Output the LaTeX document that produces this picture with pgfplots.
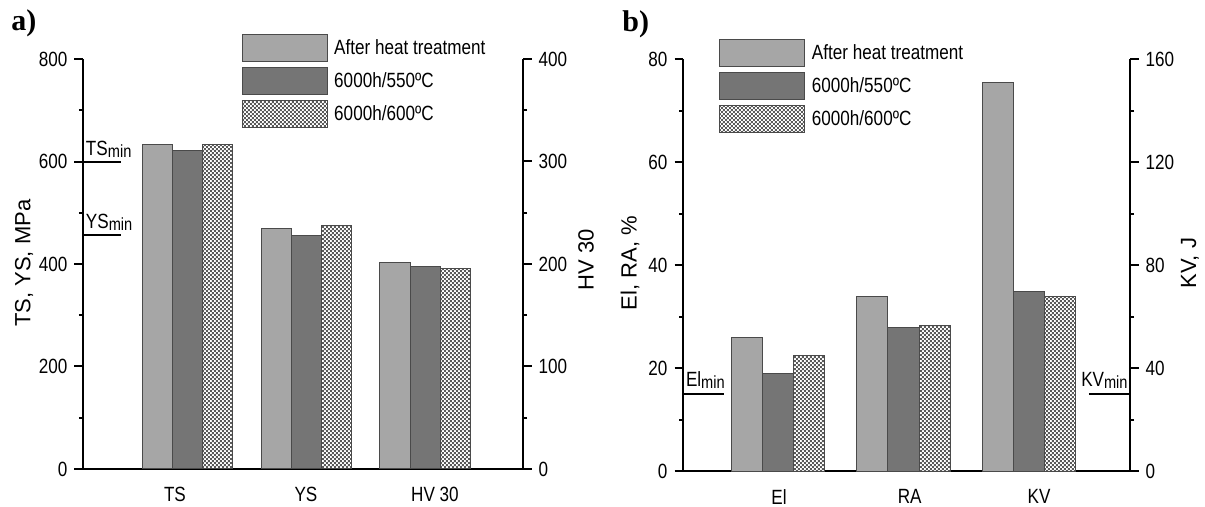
\documentclass[border=0pt]{standalone}
\usepackage{fontspec}
\setmainfont{Liberation Sans}
\newfontfamily\condfont[FakeStretch=0.83]{Liberation Sans}
\newfontfamily\panelfont{Liberation Serif}
\usepackage{pgfplots}
\pgfplotsset{compat=1.18}
\usetikzlibrary{patterns}

% fine checker used for the 600 C series
\pgfdeclarepatternformonly{finecheck}{\pgfqpoint{0pt}{0pt}}{\pgfqpoint{2.2pt}{2.2pt}}{\pgfqpoint{2.2pt}{2.2pt}}{%
  \pgfpathrectangle{\pgfqpoint{0pt}{0pt}}{\pgfqpoint{1.1pt}{1.1pt}}%
  \pgfpathrectangle{\pgfqpoint{1.1pt}{1.1pt}}{\pgfqpoint{1.1pt}{1.1pt}}%
  \pgfusepath{fill}}

\definecolor{barlight}{HTML}{A6A6A6}
\definecolor{bardark}{HTML}{757575}
\definecolor{barline}{HTML}{4A4A4A}
\definecolor{checkcol}{HTML}{5A5A5A}

\newcommand\tickfont{\condfont\fontsize{10.3}{12}\selectfont}
\newcommand\labfont{\fontsize{11}{13}\selectfont}
\newcommand\minlab[1]{#1{\fontsize{8.8}{9}\selectfont\raisebox{-1pt}{min}}}

\pgfplotsset{
  barbase/.style={ybar, draw=barline, line width=0.5pt,
    legend image code/.code={\draw[##1] (0pt,-6.75pt) rectangle (42.5pt,6.75pt);}},
  s1/.style={barbase, bar width=#1, bar shift=-#1, fill=barlight},
  s2/.style={barbase, bar width=#1, bar shift=0pt, fill=bardark},
  s3/.style={barbase, bar width=#1, bar shift=#1, fill=white,
    postaction={pattern=finecheck, pattern color=checkcol}},
  panel/.style={
    scale only axis, clip=false, anchor=south west,
    axis y line*=left, axis x line*=bottom,
    tick align=outside, major tick length=4.25pt, minor tick length=2pt,
    every tick/.style={black, line width=1pt},
    axis line style={line width=1pt},
    xtick style={draw=none},
    ticklabel style={font=\tickfont},
    /pgf/number format/assume math mode=true,
    label style={font=\labfont},
    ymin=0, minor y tick num=1,
    xticklabel style={inner sep=0pt, anchor=north, yshift=-4.5pt},
  },
  leg/.style={legend style={at={#1}, anchor=north west, draw=none, fill=none,
    font=\tickfont, nodes={inner sep=0pt}, row sep=2.5pt, column sep=3.3pt},
    legend cell align=left},
}

\begin{document}
\begin{tikzpicture}
\path[use as bounding box] (0pt,0pt) rectangle (602.5pt,253.5pt);

% ---------------- panel a ----------------
\begin{axis}[panel, at={(41.5pt,19pt)}, width=220pt, height=205pt,
  xmin=-0.878, xmax=2.82, ymax=800, ytick={0,200,...,800},
  xtick={-0.105,0.996,2.08}, xticklabels={TS,YS,HV 30},
  ylabel={TS, YS, MPa},
  ylabel style={at={(axis description cs:-0.134,0.502)}, anchor=center},
  leg={(axis description cs:0.346,1.071)}]
\addplot[s1=15.15pt] coordinates {(0,633) (1,469)};
\addlegendentry{After heat treatment}
\addplot[s2=15.15pt] coordinates {(0,621) (1,456)};
\addlegendentry{6000h/550ºC}
\addplot[s3=15.15pt] coordinates {(0,634) (1,476)};
\addlegendentry{6000h/600ºC}
\draw[line width=1pt] (axis cs:-0.878,600) -- (axis cs:-0.559,600);
\node[anchor=south west, inner sep=0pt, xshift=1.3pt, yshift=2pt, font=\tickfont]
  at (axis cs:-0.878,600) {\minlab{TS}};
\draw[line width=1pt] (axis cs:-0.878,457) -- (axis cs:-0.559,457);
\node[anchor=south west, inner sep=0pt, xshift=1.3pt, yshift=2pt, font=\tickfont]
  at (axis cs:-0.878,457) {\minlab{YS}};
\end{axis}

\begin{axis}[panel, axis y line*=right, axis x line=none,
  at={(41.5pt,19pt)}, width=220pt, height=205pt,
  xmin=-0.878, xmax=2.82, ymax=400, ytick={0,100,...,400},
  ylabel={HV 30},
  ylabel style={at={(axis description cs:1.143,0.51)}, anchor=center}]
\addplot[s1=15.15pt] coordinates {(2,201)};
\addplot[s2=15.15pt] coordinates {(2,198)};
\addplot[s3=15.15pt] coordinates {(2,196)};
\end{axis}

% ---------------- panel b ----------------
\begin{axis}[panel, at={(341.5pt,17.75pt)}, width=223.5pt, height=206.25pt,
  xmin=-0.757, xmax=2.805, ymax=80, ytick={0,20,...,80},
  xtick={0.008,1.05,2.08}, xticklabels={El,RA,KV},
  ylabel={El, RA, \%},
  ylabel style={at={(axis description cs:-0.1186,0.505)}, anchor=center},
  leg={(axis description cs:0.067,1.058)}]
\addplot[s1=15.65pt] coordinates {(0,25.9) (1,33.9)};
\addlegendentry{After heat treatment}
\addplot[s2=15.65pt] coordinates {(0,19.1) (1,28.0)};
\addlegendentry{6000h/550ºC}
\addplot[s3=15.65pt] coordinates {(0,22.4) (1,28.4)};
\addlegendentry{6000h/600ºC}
\draw[line width=1pt] (axis cs:-0.757,15) -- (axis cs:-0.434,15);
\node[anchor=south west, inner sep=0pt, xshift=1.3pt, yshift=2.5pt, font=\tickfont]
  at (axis cs:-0.757,15) {\minlab{El}};
\end{axis}

\begin{axis}[panel, axis y line*=right, axis x line=none,
  at={(341.5pt,17.75pt)}, width=223.5pt, height=206.25pt,
  xmin=-0.757, xmax=2.805, ymax=160, ytick={0,40,...,160},
  ylabel={KV, J},
  ylabel style={at={(axis description cs:1.134,0.505)}, anchor=center}]
\addplot[s1=15.65pt] coordinates {(2,151)};
\addplot[s2=15.65pt] coordinates {(2,69.9)};
\addplot[s3=15.65pt] coordinates {(2,67.8)};
\draw[line width=1pt] (axis cs:2.478,30) -- (axis cs:2.805,30);
\node[anchor=south east, inner sep=0pt, xshift=-1pt, yshift=2.5pt, font=\tickfont]
  at (axis cs:2.805,30) {\minlab{KV}};
\end{axis}

\node[anchor=base west, inner sep=0pt] at (5.5pt,238pt)
  {\panelfont\bfseries\fontsize{15}{15}\selectfont a)};
\node[anchor=base west, inner sep=0pt] at (311pt,237.5pt)
  {\panelfont\bfseries\fontsize{15}{15}\selectfont b)};
\end{tikzpicture}
\end{document}
